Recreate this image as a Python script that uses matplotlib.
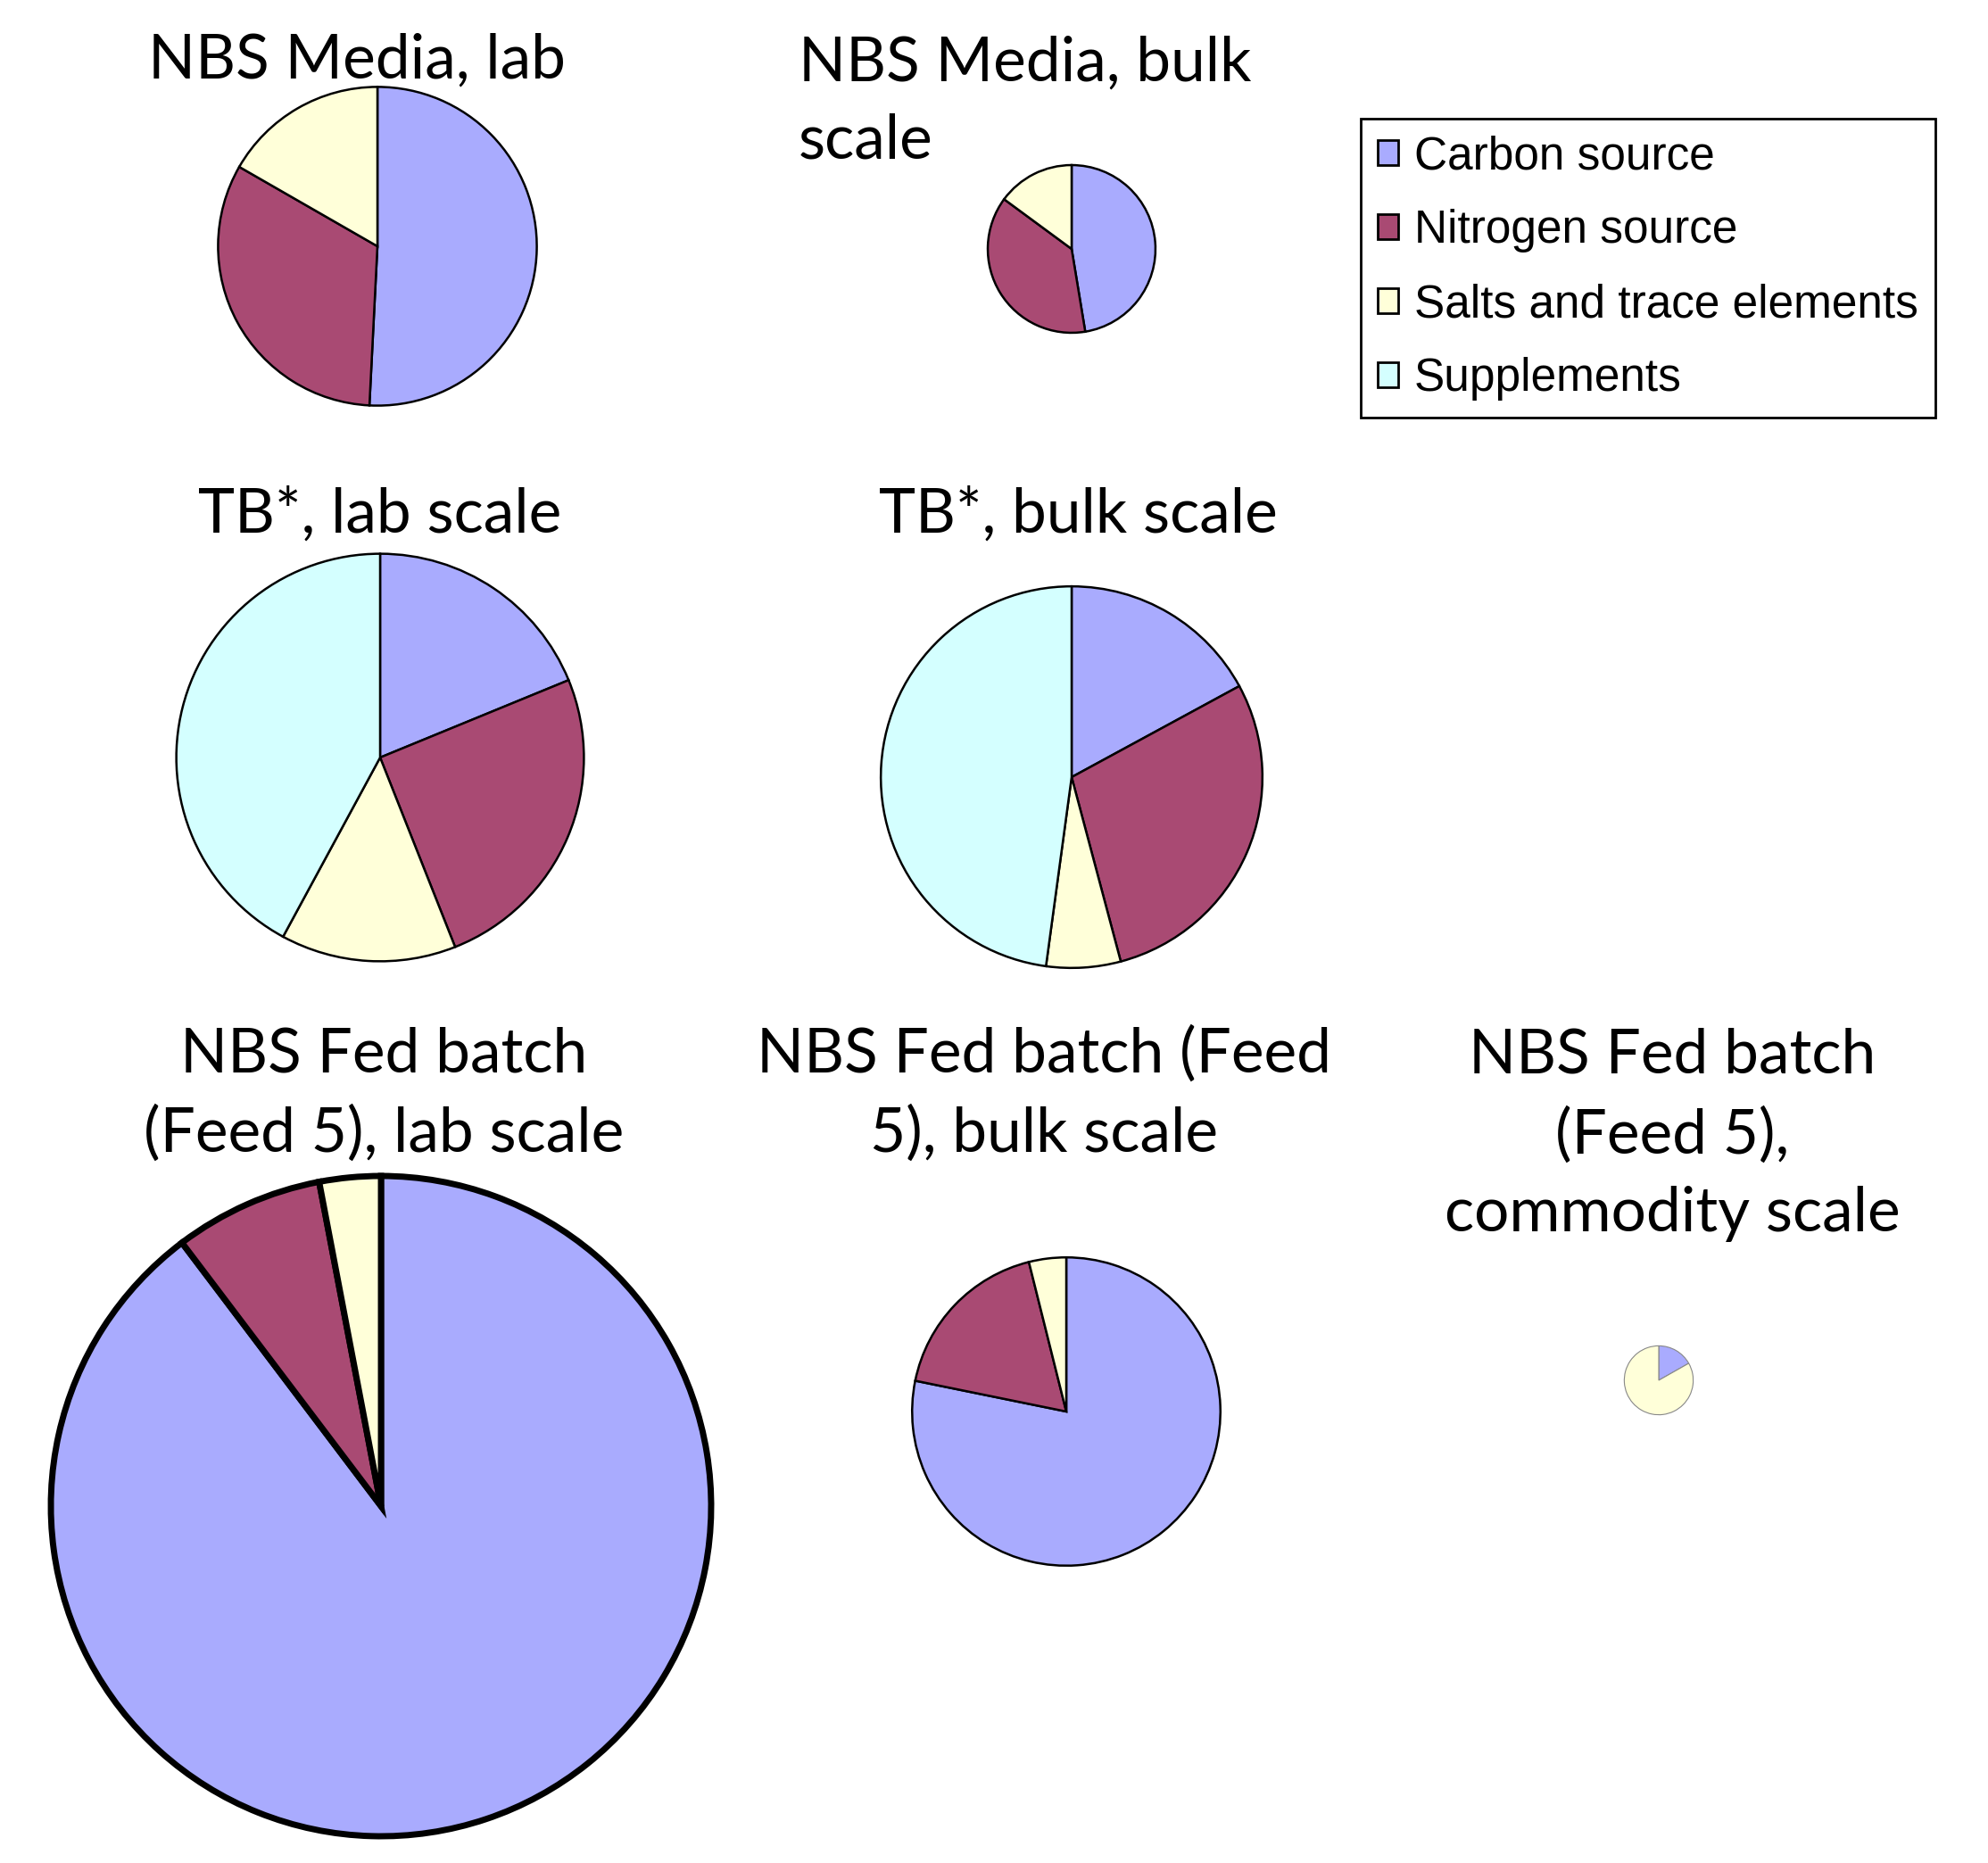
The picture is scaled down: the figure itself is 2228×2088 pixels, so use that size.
import numpy as np
import matplotlib.pyplot as plt
from matplotlib.patches import Patch

# Share of each cost component (%), one entry per pie
titles = ["NBS Media, lab", "NBS Media, bulk\nscale", "TB*, lab scale",
          "TB*, bulk scale", "NBS Fed batch\n(Feed 5), lab scale",
          "NBS Fed batch (Feed\n5), bulk scale",
          "NBS Fed batch\n(Feed 5),\ncommodity scale"]
categories = ["Carbon source", "Nitrogen source",
              "Salts and trace elements", "Supplements"]
carbon = [50.8, 47.4, 18.8, 17.1, 89.7, 78.2, 16.8]
nitrogen = [32.5, 37.7, 25.2, 28.8, 7.3, 17.9, 0.0]
salts = [16.7, 14.9, 13.9, 6.3, 3.0, 3.9, 83.2]
supplements = [0.0, 0.0, 42.1, 47.9, 0.0, 0.0, 0.0]
# relative total cost (pie area), fed batch lab scale = 100
totals = [23.3, 6.45, 38.1, 33.4, 100.0, 21.8, 1.09]

colors = ["#a9abfe", "#a94a73", "#ffffd9", "#d4ffff"]

W, H = 2228, 2088
fig = plt.figure(figsize=(W / 100, H / 100), dpi=100)
ax = fig.add_axes([0, 0, 1, 1])
ax.set_xlim(0, W)
ax.set_ylim(0, H)
ax.set_aspect("equal")
ax.axis("off")

# layout in pixels (y from top)
centers = [(423, 276), (1201, 279), (426, 849), (1201, 871),
           (427, 1688), (1195, 1582), (1859, 1547)]
r_max = 370
edge_w = [1.8, 1.8, 1.8, 1.8, 5.0, 1.8, 0.8]
edge_c = ["black"] * 6 + ["#888888"]
# x and baseline of the last title line
title_xy = [(400, 88), (895, 178), (426, 597), (1208, 597),
            (430, 1291), (1170, 1291), (1874, 1380)]
title_ha = ["center", "left", "center", "center", "center", "center", "center"]

tfont = ["Lato", "DejaVu Sans"]

for i in range(len(titles)):
    vals = [carbon[i], nitrogen[i], salts[i], supplements[i]]
    keep = [k for k in range(4) if vals[k] > 0]
    r = r_max * np.sqrt(totals[i] / max(totals))
    cx, cy = centers[i]
    ax.pie([vals[k] for k in keep], colors=[colors[k] for k in keep],
           startangle=90, counterclock=False, center=(cx, H - cy), radius=r,
           wedgeprops=dict(edgecolor=edge_c[i], linewidth=edge_w[i]))
    tx, ty = title_xy[i]
    ax.text(tx, H - ty, titles[i], ha=title_ha[i], va="baseline",
            multialignment=title_ha[i], fontsize=50, family=tfont,
            linespacing=1.48)

ax.set_xlim(0, W)
ax.set_ylim(0, H)

handles = [Patch(facecolor=c, edgecolor="black", linewidth=2) for c in colors]
leg = ax.legend(handles, categories, loc="upper left",
                bbox_to_anchor=(1525 / W, 1 - 133 / H), borderaxespad=0,
                prop=dict(family=["Liberation Sans", "DejaVu Sans"], size=37),
                handlelength=0.45, handleheight=0.45, handletextpad=0.36,
                labelspacing=0.66, borderpad=0.36, fancybox=False,
                frameon=True, edgecolor="black", framealpha=1)
leg.get_frame().set_linewidth(2)

fig.savefig("out.png", dpi=100)
